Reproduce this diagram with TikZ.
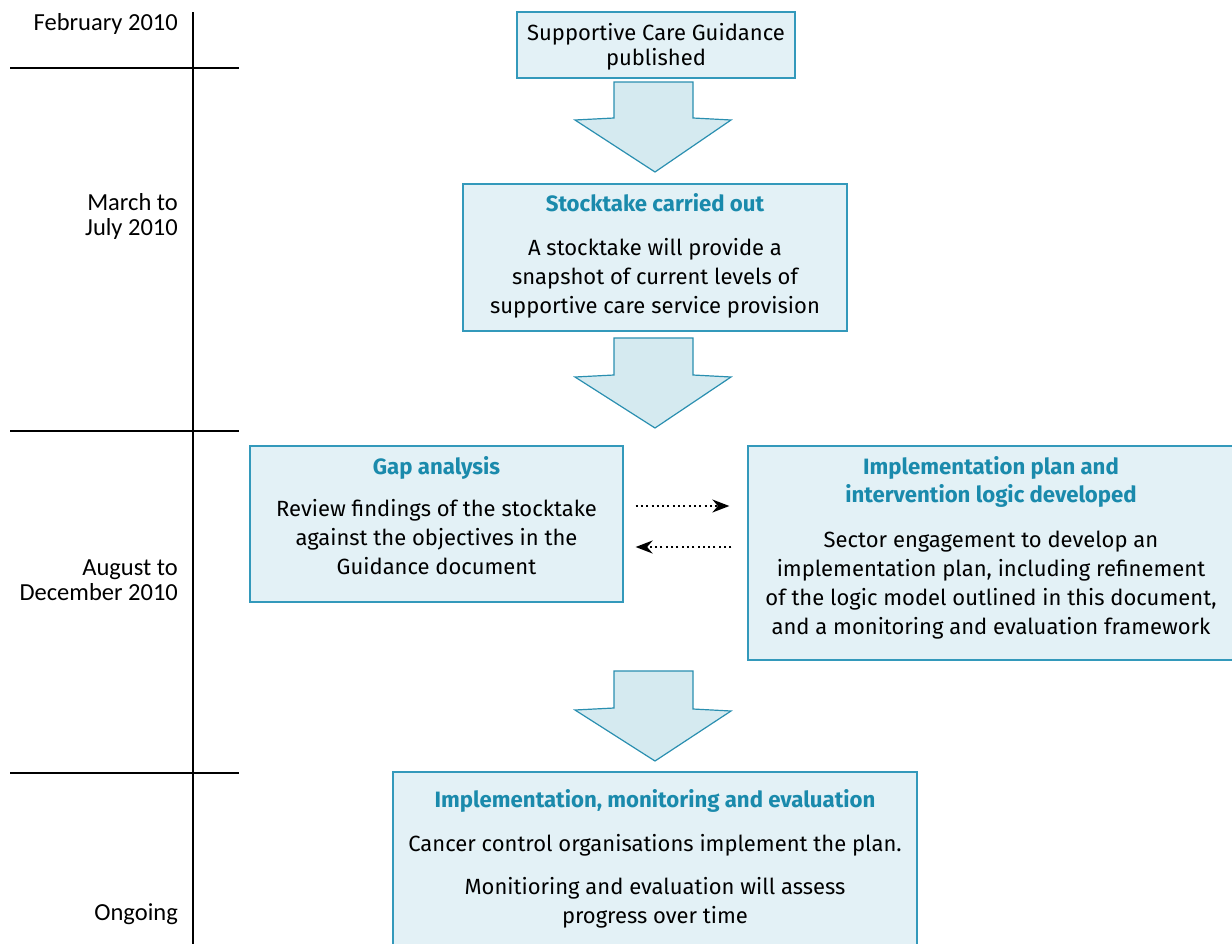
\documentclass[tikz,border=0pt]{standalone}
\usepackage{fontspec}
\setmainfont{Fira Sans}
\newfontfamily\tlfont{Carlito}
\usetikzlibrary{arrows.meta,calc}
\definecolor{boxfill}{HTML}{E3F1F6}
\definecolor{boxline}{HTML}{3399BB}
\definecolor{titlecol}{HTML}{1A8AAC}
\definecolor{arrfill}{HTML}{D5EAF0}
\definecolor{arrline}{HTML}{2A8FB0}
\tikzset{
  box/.style={draw=boxline, fill=boxfill, line width=1.3pt, inner sep=0pt},
  btext/.style={anchor=base, align=center, font=\fontsize{22}{29}\selectfont, inner sep=0pt},
  ttext/.style={anchor=base, align=center, font=\fontsize{22.2}{28}\selectfont\bfseries, text=titlecol, inner sep=0pt},
  blockarrow/.style={draw=arrline, fill=arrfill, line width=1.2pt, line join=miter},
  tline/.style={line width=2.2pt},
  tlabel/.style={anchor=base east, align=right, font=\tlfont\fontsize{24.5}{25}\selectfont, inner sep=0pt},
  dotarrow/.style={line width=2pt, dash pattern=on 2pt off 3.3pt, -{Stealth[length=17pt,width=13pt]}},
}
\begin{document}
\begin{tikzpicture}[x=1pt,y=-1pt]
\useasboundingbox (0,0) rectangle (1232,943);
% timeline
\coordinate (vt) at (193,12);
\coordinate (vb) at (193,945);
\draw[tline] (vt) -- (vb);
\coordinate (h1a) at (10,68); \coordinate (h1b) at (239,68);
\coordinate (h2a) at (10,431); \coordinate (h2b) at (239,431);
\coordinate (h3a) at (10,773); \coordinate (h3b) at (239,773);
\draw[tline] (h1a) -- (h1b);
\draw[tline] (h2a) -- (h2b);
\draw[tline] (h3a) -- (h3b);
\node[tlabel] (l1) at (178,30) {February 2010};
\node[tlabel] (l2) at (178,235) {March to\\July 2010};
\node[tlabel] (l3) at (178,600) {August to\\December 2010};
\node[tlabel] (l4) at (178,920) {Ongoing};
% boxes
\node[box, minimum width=278pt, minimum height=66pt] (b1) at (656,45) {};
\node[btext] (b1t) at (656,65) {Supportive Care Guidance\\[-4pt]published};
\node[box, minimum width=384pt, minimum height=147pt] (b2) at (655,257.5) {};
\node[ttext] (b2h) at (655,211) {Stocktake carried out};
\node[btext] (b2t) at (655,313) {A stocktake will provide a\\snapshot of current levels of\\supportive care service provision};
\node[box, minimum width=373pt, minimum height=156pt] (gap) at (436.5,524) {};
\node[ttext] (gaph) at (436.5,474) {Gap analysis};
\node[btext] (gapt) at (436.5,574) {Review findings of the stocktake\\against the objectives in the\\Guidance document};
\node[box, minimum width=486pt, minimum height=214pt] (impl) at (991,553) {};
\node[ttext] (implh) at (991,502) {Implementation plan and\\intervention logic developed};
\node[btext] (implt) at (991,634) {Sector engagement to develop an\\implementation plan, including refinement\\of the logic model outlined in this document,\\and a monitoring and evaluation framework};
\node[box, minimum width=524pt, minimum height=178pt] (b5) at (655,861) {};
\node[ttext] (b5h) at (655,807) {Implementation, monitoring and evaluation};
\node[btext] (b5t) at (655,923) {Cancer control organisations implement the plan.\\[14pt]Monitioring and evaluation will assess\\progress over time};
% block arrows
\draw[blockarrow] (614,82) -- (693,82) -- (693,118) -- (731,120) -- (655,172) -- (575,120) -- (614,118) -- cycle;
\draw[blockarrow] (614,338) -- (693,338) -- (693,375) -- (731,377) -- (655,428) -- (575,377) -- (614,375) -- cycle;
\draw[blockarrow] (614,671) -- (693,671) -- (693,709) -- (731,711) -- (655,761) -- (575,710) -- (614,708) -- cycle;
% dotted arrows
\draw[dotarrow] ($(gap.east)+(12,-18)$) -- ($(impl.west)+(-18,-47)$);
\draw[dotarrow] ($(impl.west)+(-16,-6)$) -- ($(gap.east)+(12,23)$);
\end{tikzpicture}
\end{document}
